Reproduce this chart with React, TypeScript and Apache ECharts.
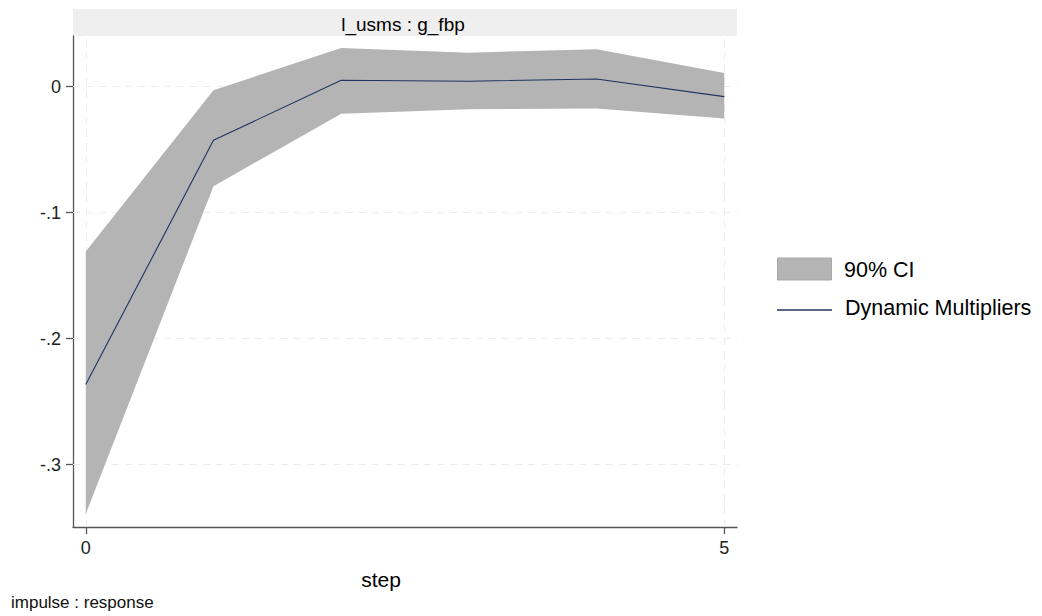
import React, { useEffect, useRef } from "react";
import * as echarts from "echarts";

const steps = [0, 1, 2, 3, 4, 5];
const multipliers = [-0.2364, -0.0426, 0.0051, 0.0043, 0.0061, -0.0079];
const ciUpper = [-0.1307, -0.0029, 0.0307, 0.027, 0.0297, 0.0109];
const ciLower = [-0.339, -0.079, -0.0214, -0.018, -0.0174, -0.0253];
const yTicks = [-0.3, -0.2, -0.1, 0];
const xTicks = [0, 5];
const panelTitle = "l_usms : g_fbp";
const xTitle = "step";
const noteText = "impulse : response";
const legendNames = ["90% CI", "Dynamic Multipliers"];

const FONT = "'Liberation Sans', Arial, sans-serif";
const BAND = "#b4b4b4";
const LINE = "#1f3461";

function fmtY(v: number) {
  if (Math.abs(v) < 1e-9) return "0";
  const s = v.toFixed(1);
  return s.replace("0.", ".");
}

export default function App() {
  const ref = useRef<HTMLDivElement>(null);
  useEffect(() => {
    if (!ref.current) return;
    const chart = echarts.init(ref.current, undefined, { renderer: "svg" });
    const bandData = steps.map((s, i) => [s, ciLower[i], ciUpper[i]]);
    const lineData = steps.map((s, i) => [s, multipliers[i]]);
    chart.setOption({
      animation: false,
      grid: { left: 73, right: 305, top: 36, bottom: 89 },
      xAxis: {
        type: "value",
        min: -0.1,
        max: 5.1,
        axisLine: { show: true, onZero: false, lineStyle: { color: "#555", width: 1.3 } },
        axisTick: { show: true, customValues: xTicks, length: 7, lineStyle: { color: "#555", width: 1.3 } },
        axisLabel: {
          customValues: xTicks,
          fontFamily: FONT,
          fontSize: 18,
          color: "#222",
          margin: 12,
          formatter: (v: number) => String(Math.round(v)),
        },
        splitLine: { show: false },
      },
      yAxis: {
        type: "value",
        min: -0.3494,
        max: 0.0402,
        axisLine: { show: true, onZero: false, lineStyle: { color: "#555", width: 1.3 } },
        axisTick: { show: true, customValues: yTicks, length: 7, lineStyle: { color: "#555", width: 1.3 } },
        axisLabel: {
          customValues: yTicks,
          fontFamily: FONT,
          fontSize: 18,
          color: "#222",
          margin: 12,
          formatter: (v: number) => fmtY(v),
        },
        splitLine: { show: false },
      },
      series: [
        {
          type: "custom",
          name: legendNames[0],
          data: bandData,
          encode: { x: 0, y: [1, 2] },
          z: 3,
          silent: true,
          renderItem: (params: any, api: any) => {
            if (params.dataIndex !== 0) return null;
            const pts: number[][] = [];
            for (let i = 0; i < bandData.length; i++) {
              pts.push(api.coord([bandData[i][0], bandData[i][2]]));
            }
            for (let i = bandData.length - 1; i >= 0; i--) {
              pts.push(api.coord([bandData[i][0], bandData[i][1]]));
            }
            return {
              type: "polygon",
              shape: { points: pts },
              style: { fill: BAND, stroke: "none" },
            };
          },
        },
        {
          type: "line",
          name: legendNames[1],
          data: lineData,
          symbol: "none",
          lineStyle: { color: LINE, width: 1.1 },
          z: 4,
          markLine: {
            silent: true,
            symbol: "none",
            label: { show: false },
            z: 1,
            lineStyle: { color: "#ececec", type: [7, 6], width: 1 },
            data: [
              ...yTicks.map((v) => ({ yAxis: v })),
              ...xTicks.map((v) => ({ xAxis: v })),
            ],
          },
        },
      ],
      graphic: [
        {
          type: "rect",
          shape: { x: 73, y: 9, width: 664, height: 27 },
          style: { fill: "#efefef" },
          z: 0,
        },
        {
          type: "text",
          x: 403,
          y: 24,
          style: {
            text: panelTitle,
            fontFamily: FONT,
            fontSize: 19,
            fill: "#000",
            align: "center",
            verticalAlign: "middle",
          },
        },
        {
          type: "text",
          x: 381,
          y: 579,
          style: {
            text: xTitle,
            fontFamily: FONT,
            fontSize: 21,
            fill: "#000",
            align: "center",
            verticalAlign: "middle",
          },
        },
        {
          type: "rect",
          shape: { x: 777.5, y: 258, width: 54, height: 22 },
          style: { fill: BAND, stroke: "#a8a8a8", lineWidth: 1 },
        },
        {
          type: "text",
          x: 844,
          y: 270,
          style: {
            text: legendNames[0],
            fontFamily: FONT,
            fontSize: 21.5,
            fill: "#000",
            verticalAlign: "middle",
          },
        },
        {
          type: "line",
          shape: { x1: 777, y1: 310, x2: 832, y2: 310 },
          style: { stroke: LINE, lineWidth: 1.4 },
        },
        {
          type: "text",
          x: 845,
          y: 308,
          style: {
            text: legendNames[1],
            fontFamily: FONT,
            fontSize: 21.5,
            fill: "#000",
            verticalAlign: "middle",
          },
        },
        {
          type: "text",
          x: 11,
          y: 602,
          style: {
            text: noteText,
            fontFamily: FONT,
            fontSize: 17,
            fill: "#111",
            verticalAlign: "middle",
          },
        },
      ],
    });
    return () => chart.dispose();
  }, []);
  return (
    <div
      ref={ref}
      style={{ position: "fixed", left: 0, top: 0, width: 1042, height: 616, background: "#fff" }}
    />
  );
}
